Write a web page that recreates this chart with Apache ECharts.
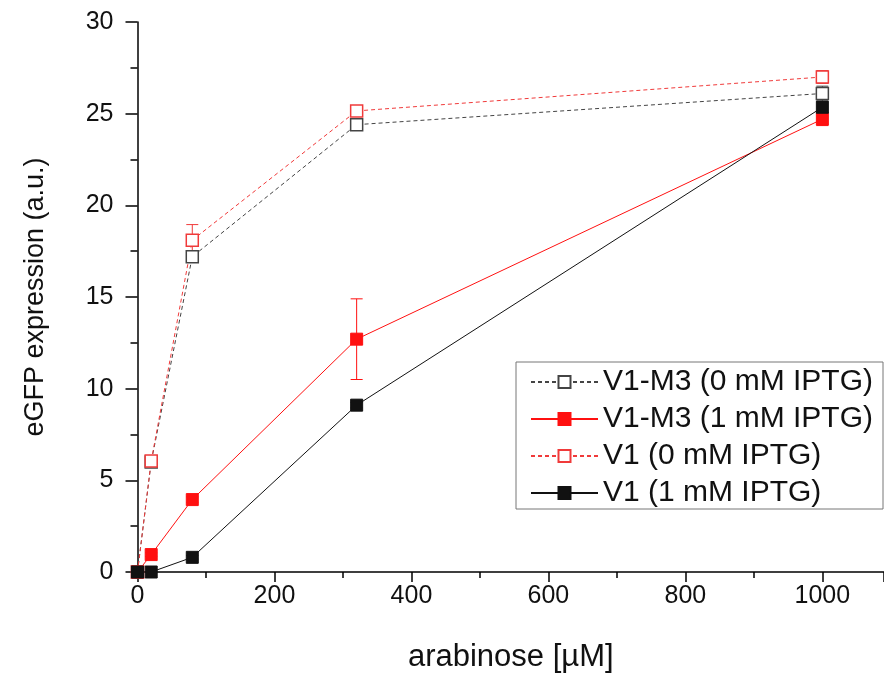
<!DOCTYPE html>
<html>
<head>
<meta charset="utf-8">
<script src="https://cdn.jsdelivr.net/npm/echarts@6/dist/echarts.min.js"></script>
<style>html,body{margin:0;padding:0;background:#fff}#c{width:884px;height:679px}</style>
</head>
<body>
<div id="c"></div>
<script>
const arabinose = [0, 20, 80, 320, 1000];
const v1m3_0 = [0, 6.0, 17.2, 24.4, 26.1];
const v1m3_0_err = [0, 0.2, 0.3, 0.2, 0.4];
const v1m3_1 = [0, 0.95, 3.95, 12.7, 24.7];
const v1m3_1_err = [0, 0.1, 0.15, 2.2, 0.35];
const v1_0 = [0, 6.05, 18.1, 25.15, 27.0];
const v1_0_err = [0, 0.2, 0.85, 0.2, 0.35];
const v1_1 = [0, 0, 0.8, 9.1, 25.35];
const v1_1_err = [0, 0, 0.1, 0.15, 0.3];
const xTicks = [0, 200, 400, 600, 800, 1000];
const yTicks = [0, 5, 10, 15, 20, 25, 30];

const names = ['V1-M3 (0 mM IPTG)', 'V1-M3 (1 mM IPTG)', 'V1 (0 mM IPTG)', 'V1 (1 mM IPTG)'];
const seriesDefs = [
  {name: names[0], y: v1m3_0, e: v1m3_0_err, color: '#444', dashed: true, open: true},
  {name: names[1], y: v1m3_1, e: v1m3_1_err, color: '#ff1010', dashed: false, open: false},
  {name: names[2], y: v1_0, e: v1_0_err, color: '#f03a3a', dashed: true, open: true},
  {name: names[3], y: v1_1, e: v1_1_err, color: '#111', dashed: false, open: false}
];

const series = [];
seriesDefs.forEach(function (d) {
  const pts = arabinose.map(function (x, i) { return [x, d.y[i]]; });
  const errs = arabinose.map(function (x, i) { return [x, d.y[i] - d.e[i], d.y[i] + d.e[i]]; });
  series.push({
    type: 'custom',
    name: d.name + ' err',
    data: errs,
    silent: true,
    z: 1,
    renderItem: function (params, api) {
      const lo = api.coord([api.value(0), api.value(1)]);
      const hi = api.coord([api.value(0), api.value(2)]);
      const w = 6;
      const st = {stroke: d.color, lineWidth: 1};
      return {type: 'group', children: [
        {type: 'line', shape: {x1: lo[0], y1: lo[1], x2: hi[0], y2: hi[1]}, style: st},
        {type: 'line', shape: {x1: hi[0] - w, y1: hi[1], x2: hi[0] + w, y2: hi[1]}, style: st},
        {type: 'line', shape: {x1: lo[0] - w, y1: lo[1], x2: lo[0] + w, y2: lo[1]}, style: st}
      ]};
    }
  });
  series.push({
    type: 'line',
    name: d.name,
    data: pts,
    symbol: 'rect',
    symbolSize: 12,
    z: 3,
    lineStyle: {color: d.color, width: 1, type: d.dashed ? [4, 3] : 'solid'},
    itemStyle: d.open ? {color: '#fff', borderColor: d.color, borderWidth: 1.5}
                      : {color: d.color, borderColor: d.color, borderWidth: 1},
    emphasis: {disabled: true}
  });
});

const chart = echarts.init(document.getElementById('c'));
chart.setOption({
  animation: false,
  backgroundColor: '#fff',
  textStyle: {fontFamily: 'Liberation Sans, Arial, sans-serif'},
  grid: {left: 137.5, right: 0, top: 22, bottom: 107, containLabel: false},
  legend: {
    data: names,
    orient: 'vertical',
    left: 516,
    top: 362,
    itemWidth: 67,
    itemHeight: 15,
    itemGap: 7,
    padding: [5, 10, 1, 14],
    borderColor: '#777',
    borderWidth: 1,
    borderRadius: 0,
    backgroundColor: '#fff',
    textStyle: {fontSize: 30, color: '#111', fontFamily: 'Liberation Sans, Arial, sans-serif'}
  },
  xAxis: {
    type: 'value',
    min: 0,
    max: 1090,
    interval: 200,
    name: 'arabinose [µM]',
    nameLocation: 'middle',
    nameGap: 70,
    nameTextStyle: {fontSize: 31, color: '#111'},
    axisLine: {show: true, onZero: false, lineStyle: {color: '#000', width: 1.5}},
    axisTick: {show: true, inside: false, length: 10, lineStyle: {color: '#000', width: 1.5}},
    minorTick: {show: true, splitNumber: 2, length: 6, lineStyle: {color: '#000', width: 1.5}},
    axisLabel: {fontSize: 25, color: '#111', margin: 12, showMaxLabel: false,
      formatter: function (v) { return xTicks.indexOf(v) >= 0 ? String(v) : ''; }},
    splitLine: {show: false}
  },
  yAxis: {
    type: 'value',
    min: 0,
    max: 30,
    interval: 5,
    name: 'eGFP expression (a.u.)',
    nameLocation: 'middle',
    nameGap: 88,
    nameTextStyle: {fontSize: 27, color: '#111'},
    axisLine: {show: true, onZero: false, lineStyle: {color: '#000', width: 1.5}},
    axisTick: {show: true, inside: false, length: 12, lineStyle: {color: '#000', width: 1.5}},
    minorTick: {show: true, splitNumber: 2, length: 7, lineStyle: {color: '#000', width: 1.5}},
    axisLabel: {fontSize: 25, color: '#111', margin: 24,
      formatter: function (v) { return yTicks.indexOf(v) >= 0 ? String(v) : ''; }},
    splitLine: {show: false}
  },
  series: series
});
</script>
</body>
</html>
